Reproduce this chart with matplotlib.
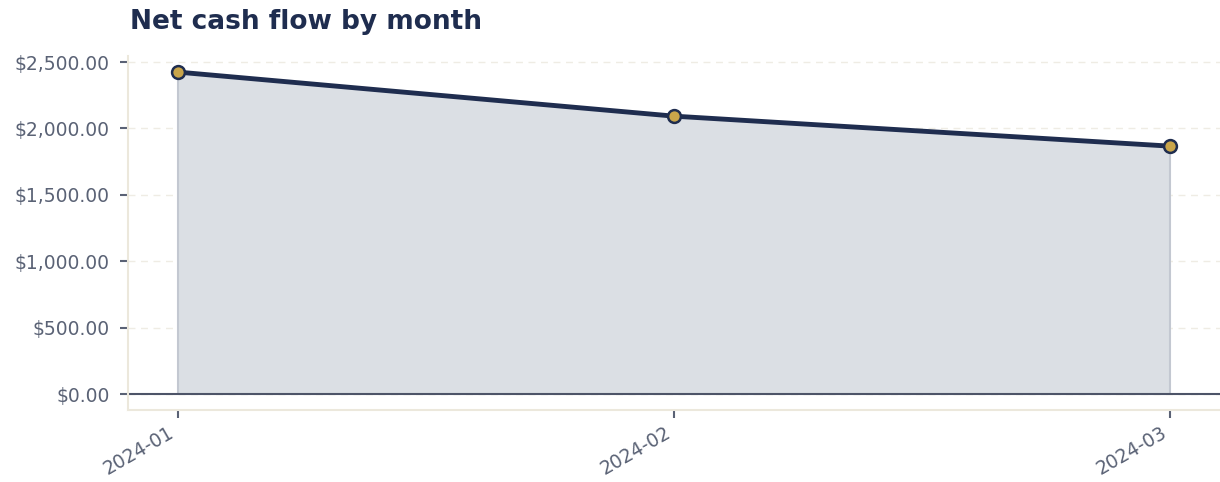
import matplotlib
matplotlib.use("Agg")
import matplotlib.pyplot as plt
from matplotlib.ticker import FuncFormatter

months = ["2024-01", "2024-02", "2024-03"]
net_cash = [2425, 2093, 1867]

navy = "#1f2d4f"
gold = "#c9a54a"
tick_col = "#5a6275"
spine_col = "#ece8dc"

fig = plt.figure(figsize=(12.2, 4.82), dpi=100)
ax = fig.add_axes([128/1220, 1 - 410/482, (1220-128)/1220, (410-56)/482])

x = list(range(len(months)))
ax.fill_between(x, net_cash, 0, color="#dbdfe4", linewidth=0)
ax.plot(x, net_cash, color=navy, linewidth=3.5, zorder=3)
ax.scatter(x, net_cash, s=85, color=gold, edgecolor=navy, linewidth=1.8, zorder=4)
ax.vlines([x[0], x[-1]], 0, [net_cash[0], net_cash[-1]], color="#c3c8d1", linewidth=1.5)
ax.axhline(0, color="#4d5468", linewidth=1.5, zorder=2)

ax.set_xlim(-0.1, 2.1)
ax.set_ylim(-120, 2546)
ax.set_yticks([0, 500, 1000, 1500, 2000, 2500])
ax.yaxis.set_major_formatter(FuncFormatter(lambda v, p: f"${v:,.2f}"))
ax.set_xticks(x)
ax.set_xticklabels(months, rotation=30, ha="right")

ax.grid(axis="y", color="#efece4", linestyle=(0, (5, 4)), linewidth=1)
ax.set_axisbelow(True)
for s in ["top", "right"]:
    ax.spines[s].set_visible(False)
for s in ["left", "bottom"]:
    ax.spines[s].set_color(spine_col)
    ax.spines[s].set_linewidth(1.5)
ax.tick_params(axis="both", colors=tick_col, labelsize=13.5, length=6, width=1.5)
ax.tick_params(axis="y", pad=7)

fig.text(130/1220, 1 - 22/482, "Net cash flow by month", fontsize=19, fontweight="bold",
         color=navy, ha="left", va="center")

fig.savefig("out.png", dpi=100)
